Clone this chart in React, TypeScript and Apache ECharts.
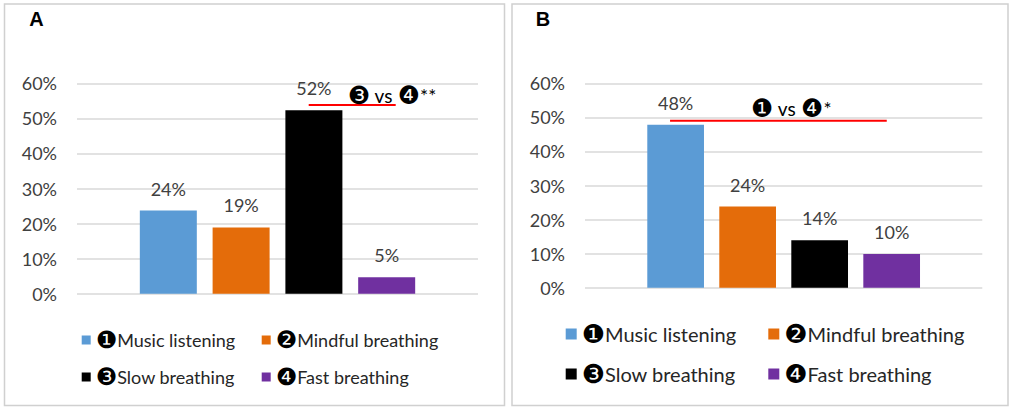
import React, { useEffect, useRef } from "react";
import * as echarts from "echarts";

const categories = [""];
const seriesNames = ["❶Music listening", "❷Mindful breathing", "❸Slow breathing", "❹Fast breathing"];
const valuesA = [23.7, 18.9, 52.3, 4.7];
const valuesB = [47.8, 23.8, 13.9, 9.9];
const colors = ["#5B9BD5", "#E46C0A", "#000000", "#7030A0"];
const panelTitles = ["A", "B"];
const yMin = 0;
const yMax = 60;
const yInterval = 10;
const annotationTexts = ["❸ vs ❹**", "❶ vs ❹*"];
const annotationLevels = [53.8, 49.0];

const FONT = "Lato, 'DejaVu Sans', sans-serif";
const CIRCLED = "❶❷❸❹";

function toRich(s: string) {
  let out = "";
  let buf = "";
  for (const ch of s) {
    if (CIRCLED.includes(ch)) {
      if (buf) out += "{t|" + buf + "}";
      buf = "";
      out += "{c|" + ch + "}";
    } else buf += ch;
  }
  if (buf) out += "{t|" + buf + "}";
  return out;
}

export default function App() {
  const ref = useRef<HTMLDivElement>(null);
  useEffect(() => {
    document.body.style.margin = "0";
    const chart = echarts.init(ref.current!, null, { renderer: "svg" });
    const grids = [
      { left: 77, top: 83.3, width: 401, height: 210.4 },
      { left: 585, top: 83.3, width: 397.3, height: 204.4 },
    ];
    const allValues = [valuesA, valuesB];
    const series: any[] = [];
    allValues.forEach((vals, g) => {
      vals.forEach((v, i) => {
        series.push({
          type: "bar",
          name: seriesNames[i],
          xAxisIndex: g,
          yAxisIndex: g,
          data: [v],
          barWidth: g === 0 ? 57 : 56.7,
          barGap: g === 0 ? "27.7%" : "27%",
          itemStyle: { color: colors[i] },
          label: {
            show: true,
            position: "top",
            distance: 13,
            color: "#404040",
            fontFamily: FONT,
            fontSize: 18,
            formatter: (p: any) => Math.round(p.value) + "%",
          },
        });
      });
    });
    const legendPos = [
      { size: 9, font: 18, cfont: 24, items: [[81.7, 328], [261.7, 328], [81.7, 365], [261.7, 365]] },
      { size: 11, font: 20, cfont: 26, items: [[565.7, 321], [768.3, 321], [565.7, 361], [768.3, 361]] },
    ];
    const legends: any[] = [];
    legendPos.forEach((lp) => {
      lp.items.forEach((pos, i) => {
        legends.push({
          data: [seriesNames[i]],
          left: pos[0],
          top: pos[1],
          padding: 0,
          icon: "rect",
          itemWidth: lp.size,
          itemHeight: lp.size,
          selectedMode: false,
          formatter: (name: string) => toRich(name),
          textStyle: {
            fontFamily: FONT,
            fontSize: lp.font,
            lineHeight: lp.font,
            color: "#262626",
            rich: {
              t: { fontFamily: FONT, fontSize: lp.font, lineHeight: lp.font, color: "#262626" },
              c: { fontFamily: "'DejaVu Sans'", fontSize: lp.cfont, lineHeight: lp.font, color: "#000" },
            },
          },
        });
      });
    });
    chart.setOption({
      animation: false,
      grid: grids,
      legend: legends,
      xAxis: grids.map((_, g) => ({
        type: "category",
        gridIndex: g,
        data: categories,
        axisLine: { show: false },
        axisTick: { show: false },
        axisLabel: { show: false },
      })),
      yAxis: grids.map((_, g) => ({
        type: "value",
        gridIndex: g,
        min: yMin,
        max: yMax,
        interval: yInterval,
        axisLine: { show: false },
        axisTick: { show: false },
        axisLabel: {
          margin: 20,
          color: "#404040",
          fontFamily: FONT,
          fontSize: 18,
          formatter: "{value}%",
        },
        splitLine: { lineStyle: { color: "#D9D9D9", width: 1.5 } },
      })),
      series,
    });

    const lineOffsets = [
      [31.2, 118.2, 70.2, -10],
      [-113.6, 103.1, -32.6, -12.4],
    ];
    const graphic: any[] = [
      { type: "rect", shape: { x: 4.5, y: 4, width: 500, height: 401.5 }, style: { fill: "none", stroke: "#D0D0D0", lineWidth: 1.5 } },
      { type: "rect", shape: { x: 512, y: 4, width: 496, height: 401.5 }, style: { fill: "none", stroke: "#D0D0D0", lineWidth: 1.5 } },
      { type: "text", x: 29.3, y: 19, style: { text: panelTitles[0], fontFamily: "'Liberation Sans', Arial, sans-serif", fontWeight: "bold", fontSize: 20, fill: "#000", verticalAlign: "middle" } },
      { type: "text", x: 535.7, y: 19, style: { text: panelTitles[1], fontFamily: "'Liberation Sans', Arial, sans-serif", fontWeight: "bold", fontSize: 20, fill: "#000", verticalAlign: "middle" } },
    ];
    annotationLevels.forEach((lvl, g) => {
      const p = chart.convertToPixel({ gridIndex: g } as any, [0, lvl]) as number[];
      const o = lineOffsets[g];
      graphic.push({
        type: "line",
        shape: { x1: p[0] + o[0], y1: p[1], x2: p[0] + o[1], y2: p[1] },
        style: { stroke: "#FF0000", lineWidth: 2 },
      });
      graphic.push({
        type: "text",
        x: p[0] + o[2],
        y: p[1] + o[3],
        style: {
          text: toRich(annotationTexts[g]),
          fontFamily: FONT,
          fontSize: 19,
          lineHeight: 19,
          fill: "#000",
          verticalAlign: "middle",
          rich: {
            t: { fontFamily: FONT, fontSize: 19, lineHeight: 19, fill: "#000" },
            c: { fontFamily: "'DejaVu Sans'", fontSize: 25, lineHeight: 19, fill: "#000" },
          },
        },
      });
    });
    chart.setOption({ graphic });
    return () => chart.dispose();
  }, []);
  return <div ref={ref} style={{ width: 1013, height: 412 }} />;
}
